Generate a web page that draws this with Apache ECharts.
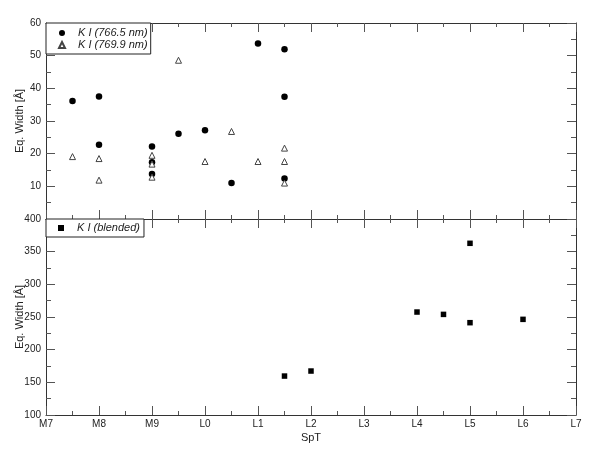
<!DOCTYPE html>
<html>
<head>
<meta charset="utf-8">
<script src="https://cdn.jsdelivr.net/npm/echarts@6/dist/echarts.js"></script>
<style>
  html, body { margin: 0; padding: 0; background: #fff; }
  #chart { width: 598px; height: 462px; }
</style>
</head>
<body>
<div id="chart"></div>
<script>
// spectral type ticks, position 0 = M7 ... 10 = L7
const sptLabels = ['M7', 'M8', 'M9', 'L0', 'L1', 'L2', 'L3', 'L4', 'L5', 'L6', 'L7']

// K I 766.5 nm
const k7665X = [0.5, 1, 1, 2, 2, 2, 2.5, 3, 3.5, 4, 4.5, 4.5, 4.5]
const k7665Y = [36.1, 37.5, 22.7, 22.2, 17.4, 13.8, 26.1, 27.2, 11.0, 53.7, 52.0, 37.4, 12.4]

// K I 769.9 nm
const k7699X = [0.5, 1, 1, 2, 2, 2, 2.5, 3, 3.5, 4, 4.5, 4.5, 4.5]
const k7699Y = [19.1, 18.5, 11.9, 19.5, 16.8, 12.8, 48.6, 17.6, 26.8, 17.6, 21.7, 17.6, 11.0]

// K I blended
const blendX = [4.5, 5, 7, 7.5, 8, 8, 9]
const blendY = [159.6, 167.3, 257.6, 254, 362.8, 241.3, 246.4]

const pairs = (xs, ys) => xs.map((x, i) => [x, ys[i]])

const font = 'Liberation Sans, Arial, sans-serif'
const lineColor = '#333'
const tickColor = '#555'

function xAxisFor(grid, position, showLabels) {
  return {
    type: 'value',
    gridIndex: grid,
    position: position,
    min: 0,
    max: 10,
    interval: 1,
    axisLine: { show: true, onZero: false, lineStyle: { color: lineColor, width: 1 } },
    axisTick: { show: true, inside: true, length: 9, lineStyle: { color: tickColor } },
    minorTick: { show: true, splitNumber: 2, length: 4, lineStyle: { color: tickColor } },
    splitLine: { show: false },
    axisLabel: {
      show: showLabels,
      margin: 4,
      fontSize: 10,
      fontFamily: font,
      color: '#222',
      formatter: v => sptLabels[Math.round(v)]
    }
  }
}

function yAxisFor(grid, position, min, max, interval, showLabels) {
  const axis = {
    type: 'value',
    gridIndex: grid,
    position: position,
    min: min,
    max: max,
    interval: interval,
    axisLine: { show: true, onZero: false, lineStyle: { color: lineColor, width: 1 } },
    axisTick: { show: true, inside: true, length: 9, lineStyle: { color: tickColor } },
    minorTick: { show: true, splitNumber: 2, length: 5, lineStyle: { color: tickColor } },
    splitLine: { show: false },
    axisLabel: {
      show: showLabels,
      margin: 5,
      fontSize: 10,
      fontFamily: font,
      color: '#222',
      formatter: v => (grid === 0 && v === 0 ? '' : String(v))
    }
  }
  if (showLabels) {
    axis.name = 'Eq. Width [Å]'
    axis.nameLocation = 'middle'
    axis.nameGap = 21
    axis.nameMoveOverlap = false
    axis.nameTextStyle = { fontSize: 11, fontFamily: font, color: '#222' }
  }
  return axis
}

const xBottom = xAxisFor(1, 'bottom', true)
xBottom.name = 'SpT'
xBottom.nameLocation = 'middle'
xBottom.nameGap = 17
xBottom.nameMoveOverlap = false
xBottom.nameTextStyle = { fontSize: 11, fontFamily: font, color: '#222' }

const legendBase = {
  orient: 'vertical',
  left: 46,
  backgroundColor: '#fff',
  borderColor: '#222',
  borderWidth: 1,
  borderRadius: 0,
  itemGap: 0,
  itemWidth: 6,
  itemHeight: 6,
  textStyle: {
    fontSize: 11,
    lineHeight: 12,
    fontStyle: 'italic',
    fontFamily: font,
    color: '#222',
    padding: [0, 0, 0, 8]
  }
}

const option = {
  animation: false,
  backgroundColor: '#fff',
  grid: [
    { left: 46, top: 23, width: 530, height: 196, outerBoundsMode: 'none' },
    { left: 46, top: 219, width: 530, height: 196, outerBoundsMode: 'none' }
  ],
  legend: [
    Object.assign({}, legendBase, {
      top: 23,
      padding: [4, 3, 3, 12],
      data: ['K I (766.5 nm)', 'K I (769.9 nm)']
    }),
    Object.assign({}, legendBase, {
      top: 219,
      padding: [3, 4, 3, 12],
      data: ['K I (blended)']
    })
  ],
  xAxis: [
    xAxisFor(0, 'bottom', false),
    xAxisFor(0, 'top', false),
    xBottom,
    xAxisFor(1, 'top', false)
  ],
  yAxis: [
    yAxisFor(0, 'left', 0, 60, 10, true),
    yAxisFor(0, 'right', 0, 60, 10, false),
    yAxisFor(1, 'left', 100, 400, 50, true),
    yAxisFor(1, 'right', 100, 400, 50, false)
  ],
  series: [
    {
      name: 'K I (766.5 nm)',
      type: 'scatter',
      xAxisIndex: 0,
      yAxisIndex: 0,
      symbol: 'circle',
      symbolSize: 6.5,
      itemStyle: { color: '#000', opacity: 1 },
      data: pairs(k7665X, k7665Y)
    },
    {
      name: 'K I (769.9 nm)',
      type: 'scatter',
      xAxisIndex: 0,
      yAxisIndex: 0,
      symbol: 'triangle',
      symbolSize: 6,
      itemStyle: { color: '#fff', borderColor: '#444', borderWidth: 1, opacity: 1 },
      data: pairs(k7699X, k7699Y)
    },
    {
      name: 'K I (blended)',
      type: 'scatter',
      xAxisIndex: 2,
      yAxisIndex: 2,
      symbol: 'rect',
      symbolSize: 5.5,
      itemStyle: { color: '#000', opacity: 1 },
      data: pairs(blendX, blendY)
    }
  ]
}

const chart = echarts.init(document.getElementById('chart'))
chart.setOption(option)
</script>
</body>
</html>
